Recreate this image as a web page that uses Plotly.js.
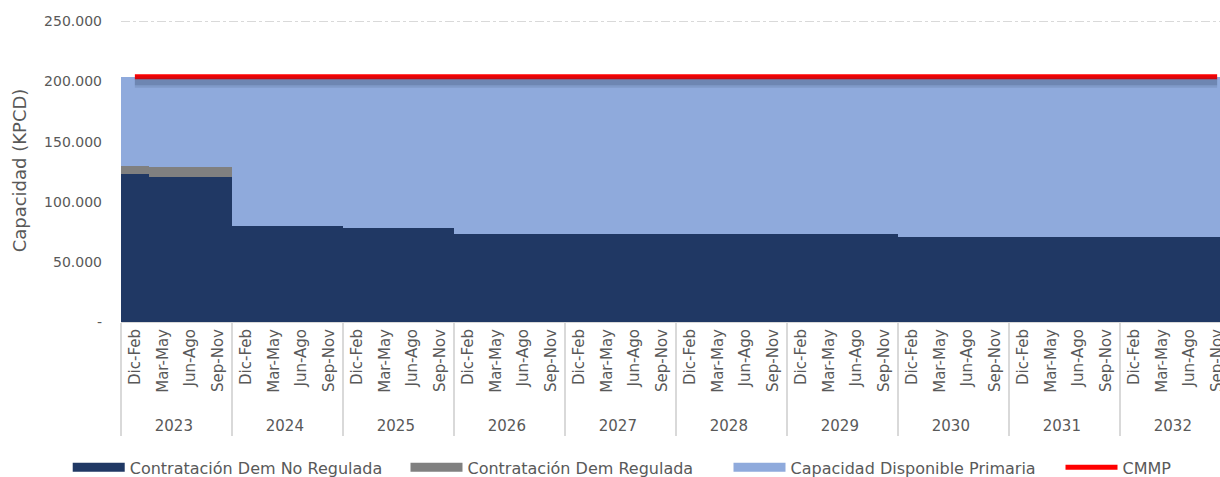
<!DOCTYPE html>
<html>
<head>
<meta charset="utf-8">
<script src="https://cdn.plot.ly/plotly-3.0.1.min.js"></script>
<style>
  html, body { margin: 0; padding: 0; background: #fff; overflow: hidden; }
  #chart { width: 1232px; height: 477px; }
</style>
</head>
<body>
<div id="chart"></div>
<script>
// ---- Data ----
const years = ['2023','2024','2025','2026','2027','2028','2029','2030','2031','2032'];
const quarters = ['Dic-Feb','Mar-May','Jun-Ago','Sep-Nov'];

const demNoRegulada = [
  123000,121000,121000,121000,
  80000,80000,80000,80000,
  78000,78000,78000,78000,
  73000,73000,73000,73000,
  73000,73000,73000,73000,
  73000,73000,73000,73000,
  73000,73000,73000,73000,
  71000,71000,71000,71000,
  71000,71000,71000,71000,
  71000,71000,71000,71000
];
const demRegulada = [
  7000,7500,7500,7500,
  0,0,0,0, 0,0,0,0, 0,0,0,0, 0,0,0,0,
  0,0,0,0, 0,0,0,0, 0,0,0,0, 0,0,0,0, 0,0,0,0
];
const capDisponible = [
  74000,75500,75500,75500,
  124000,124000,124000,124000,
  126000,126000,126000,126000,
  131000,131000,131000,131000,
  131000,131000,131000,131000,
  131000,131000,131000,131000,
  131000,131000,131000,131000,
  133000,133000,133000,133000,
  133000,133000,133000,133000,
  133000,133000,133000,133000
];
const cmmp = [
  204000,204000,204000,204000, 204000,204000,204000,204000,
  204000,204000,204000,204000, 204000,204000,204000,204000,
  204000,204000,204000,204000, 204000,204000,204000,204000,
  204000,204000,204000,204000, 204000,204000,204000,204000,
  204000,204000,204000,204000, 204000,204000,204000,204000
];
const yTickVals = [0,50000,100000,150000,200000,250000];
const yTickText = ['-','50.000','100.000','150.000','200.000','250.000'];

// multicategory x built from years x quarters
// (two leading no-break spaces only pad the rotated labels so the year row sits lower)
const PAD = '\u00a0\u00a0';
const xYear = [], xQ = [];
years.forEach(y => quarters.forEach(q => { xYear.push(y); xQ.push(PAD + q); }));
const X = [xYear, xQ];

const NAVY = '#203864', GRAY = '#808080', LIGHT = '#8FAADC', RED = '#FF0000';
const FONT = 'DejaVu Sans, sans-serif';
const TXT = '#595959';
const Y_RANGE = [0, 252000];
const SHADOW_SHIFT = 4200;

const traces = [
  {type:'bar', x:X, y:demNoRegulada, name:'Contratación Dem No Regulada',
   marker:{color:NAVY, line:{width:0}}, showlegend:false},
  {type:'bar', x:X, y:demRegulada, name:'Contratación Dem Regulada',
   marker:{color:GRAY, line:{width:0}}, showlegend:false},
  {type:'bar', x:X, y:capDisponible, name:'Capacidad Disponible Primaria',
   marker:{color:LIGHT, line:{width:0}}, showlegend:false},
  // soft shadow of the CMMP line (same data on a slightly shifted overlay axis)
  {type:'scatter', mode:'lines', x:X, y:cmmp, yaxis:'y2', name:'CMMP sombra',
   line:{color:'rgba(30,45,80,0.13)', width:12}, showlegend:false},
  {type:'scatter', mode:'lines', x:X, y:cmmp, yaxis:'y2', name:'CMMP sombra',
   line:{color:'rgba(30,45,80,0.18)', width:7}, showlegend:false},
  {type:'scatter', mode:'lines', x:X, y:cmmp, name:'CMMP',
   line:{color:RED, width:5}, showlegend:false},
  // legend entries (one small legend each, placed like the reference)
  {type:'scatter', mode:'lines', x:[null], y:[null], name:'Contratación Dem No Regulada',
   line:{color:NAVY, width:9}, legend:'legend'},
  {type:'scatter', mode:'lines', x:[null], y:[null], name:'Contratación Dem Regulada',
   line:{color:GRAY, width:9}, legend:'legend2'},
  {type:'scatter', mode:'lines', x:[null], y:[null], name:'Capacidad Disponible Primaria',
   line:{color:LIGHT, width:9}, legend:'legend3'},
  {type:'scatter', mode:'lines', x:[null], y:[null], name:'CMMP',
   line:{color:RED, width:5}, legend:'legend4'}
];

const legendBase = (x) => ({
  orientation:'h', x:x, xanchor:'left', y:-0.48, yanchor:'middle',
  font:{family:FONT, size:16, color:TXT}, itemwidth:52, bgcolor:'rgba(0,0,0,0)'
});

const layout = {
  width:1232, height:477,
  margin:{l:121, r:1, t:19, b:155, autoexpand:false},
  paper_bgcolor:'#fff', plot_bgcolor:'#fff',
  barmode:'stack', bargap:0,
  font:{family:FONT, color:TXT, size:15},
  xaxis:{
    type:'multicategory',
    tickangle:-90,
    tickfont:{family:FONT, size:15, color:TXT},
    showdividers:true, dividercolor:'#d9d9d9', dividerwidth:2,
    showline:true, linecolor:'#d9d9d9', linewidth:1,
    ticks:'', showgrid:false, automargin:false
  },
  yaxis:{
    range:Y_RANGE,
    tickvals:yTickVals, ticktext:yTickText,
    tickfont:{family:FONT, size:14, color:TXT},
    ticklabelstandoff:18,
    showgrid:true, gridcolor:'#d9d9d9', griddash:'dashdot', gridwidth:1,
    zeroline:false, showline:false, ticks:'', automargin:false,
    title:{text:'Capacidad (KPCD)', font:{family:FONT, size:18, color:TXT}, standoff:12}
  },
  yaxis2:{
    overlaying:'y', range:[Y_RANGE[0]+SHADOW_SHIFT, Y_RANGE[1]+SHADOW_SHIFT], visible:false
  },
  legend: legendBase(-0.048),
  legend2: legendBase(0.2563),
  legend3: legendBase(0.5473),
  legend4: legendBase(0.8464),
  showlegend:true
};

Plotly.newPlot('chart', traces, layout, {displayModeBar:false, staticPlot:true});
</script>
</body>
</html>
